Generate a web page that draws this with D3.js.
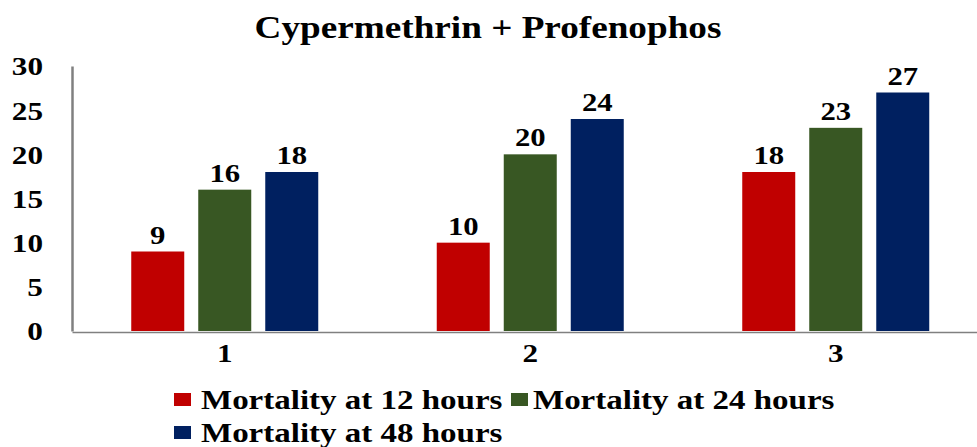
<!DOCTYPE html>
<html>
<head>
<meta charset="utf-8">
<script src="https://cdn.jsdelivr.net/npm/d3@7"></script>
<style>
  body { margin: 0; background: #fff; }
  text { font-family: "Times New Roman", "Liberation Serif", serif; font-weight: bold; fill: #000; }
</style>
</head>
<body>
<div id="chart"></div>
<script>
// data
const groups = ["1", "2", "3"];
const series = ["Mortality at 12 hours", "Mortality at 24 hours", "Mortality at 48 hours"];
const mort12 = [9, 10, 18];
const mort24 = [16, 20, 23];
const mort48 = [18, 24, 27];
const yTicks = [0, 5, 10, 15, 20, 25, 30];
const colors = ["#c00000", "#385723", "#002060"];

let width = 977,
    height = 447,
    margin = ({ top: 66, left: 72, bottom: 116 }),
    sx = 1.2; // the text in the picture is stretched sideways

const svg = d3.select("#chart")
  .append("svg")
  .attr("width", width)
  .attr("height", height);

const values = [mort12, mort24, mort48];
const data = groups.map((g, i) => ({ group: g, vals: series.map((s, j) => ({ s: s, v: values[j][i], c: colors[j] })) }));

let x = d3.scaleBand()
  .domain(groups)
  .range([margin.left, margin.left + 916.5]);

let x1 = d3.scaleBand()
  .domain(series)
  .range([-93.5, 93.5])
  .paddingInner(0.209);

let y = d3.scaleLinear()
  .domain([0, 30])
  .range([height - margin.bottom + 0, margin.top]);

// title
svg.append("text")
  .attr("text-anchor", "middle")
  .attr("transform", `translate(488,38) scale(${sx},1)`)
  .style("font-size", "31px")
  .text("Cypermethrin + Profenophos");

// y axis
const yAx = svg.append("g")
  .attr("transform", `translate(${margin.left},0)`)
  .call(d3.axisLeft(y).tickValues(yTicks).tickSize(0).tickSizeOuter(0));
yAx.select(".domain").attr("stroke", "#808080").attr("stroke-width", 2.5);
yAx.selectAll("text")
  .attr("x", -24.2)
  .attr("dy", "0.34em")
  .attr("transform", `scale(${sx},1)`)
  .style("font-size", "26px")
  .style("font-family", null);

// bars
const gg = svg.append("g").selectAll("g")
  .data(data)
  .join("g")
  .attr("transform", d => `translate(${x(d.group) + x.bandwidth() / 2},0)`);

gg.selectAll("rect")
  .data(d => d.vals)
  .join("rect")
  .attr("x", d => x1(d.s))
  .attr("y", d => y(d.v))
  .attr("width", x1.bandwidth())
  .attr("height", d => y(0) - y(d.v))
  .attr("fill", d => d.c);

gg.selectAll("text")
  .data(d => d.vals)
  .join("text")
  .attr("text-anchor", "middle")
  .attr("transform", d => `translate(${x1(d.s) + x1.bandwidth() / 2},${y(d.v) - 8}) scale(${sx},1)`)
  .style("font-size", "25.6px")
  .text(d => d.v);

// x axis
const xAx = svg.append("g")
  .attr("transform", `translate(0,${y(0) + 1})`)
  .call(d3.axisBottom(x).tickSize(0).tickSizeOuter(0));
xAx.select(".domain").attr("stroke", "#808080").attr("stroke-width", 1.5);
xAx.selectAll("text")
  .attr("y", 30)
  .attr("dy", 0)
  .attr("transform", `scale(${sx},1)`)
  .style("font-size", "26px")
  .style("font-family", null);

// legend
const legPos = [[174, 409], [511, 409], [174, 442]];
const leg = svg.append("g").selectAll("g")
  .data(series)
  .join("g")
  .attr("transform", (d, i) => `translate(${legPos[i][0]},${legPos[i][1]})`);

leg.append("rect")
  .attr("x", 0)
  .attr("y", -16)
  .attr("width", 17)
  .attr("height", 13)
  .attr("fill", (d, i) => colors[i]);

leg.append("text")
  .attr("transform", (d, i) => `translate(${i == 1 ? 22 : 27},0) scale(${sx},1)`)
  .style("font-size", "27.5px")
  .text(d => d);
</script>
</body>
</html>
